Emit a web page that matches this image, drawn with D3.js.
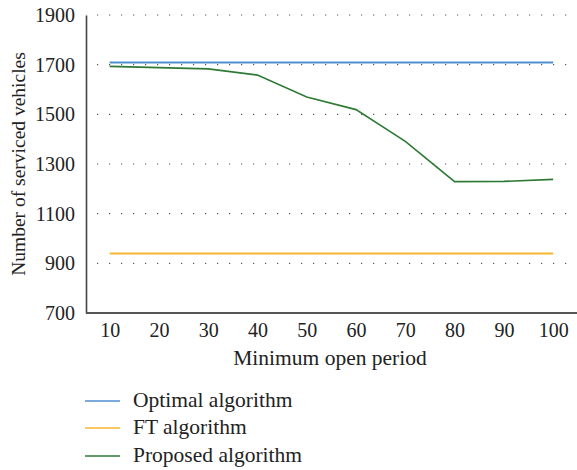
<!DOCTYPE html>
<html><head><meta charset="utf-8">
<script src="https://cdn.jsdelivr.net/npm/d3@7"></script>
<style>body{margin:0;background:#fff}svg{display:block}svg text{font-family:"Liberation Serif","DejaVu Serif",serif !important;}</style>
</head><body>
<svg id="c" width="577" height="470"></svg>
<script>
const periods = [10,20,30,40,50,60,70,80,90,100];
const optimal = [1709,1709,1709,1709,1709,1709,1709,1709,1709,1709];
const ftAlg = [940,940,940,940,940,940,940,940,940,940];
const proposed = [1693,1688,1683,1658,1570,1519,1391,1229,1230,1238];
const yTicks = [700,900,1100,1300,1500,1700,1900];
const seriesNames = ["Optimal algorithm","FT algorithm","Proposed algorithm"];
const colors = ["#4f8fd0","#f7b630","#2e7a35"];
const series = [optimal, ftAlg, proposed];

const svg = d3.select("#c");
const x = d3.scaleLinear().domain([5,105]).range([85,577.8]);
const y = d3.scaleLinear().domain([700,1900]).range([313,15]);

// grid
svg.append("g").selectAll("line").data(yTicks.filter(d=>d>700)).join("line")
  .attr("x1",86).attr("x2",577).attr("y1",d=>y(d)).attr("y2",d=>y(d))
  .attr("stroke","#555").attr("stroke-width",1.2)
  .attr("stroke-dasharray","1.2 10.8").attr("stroke-dashoffset",-11);

// y axis
const ya = svg.append("g").attr("transform","translate(86,0)")
  .call(d3.axisLeft(y).tickValues(yTicks).tickSize(0).tickPadding(11).tickFormat(d3.format("d")));
ya.attr("font-family",null);
ya.select(".domain").attr("stroke","#444").attr("stroke-width",1.6);
ya.selectAll("text").attr("font-size",20).attr("fill","#222");

// x axis
const xa = svg.append("g").attr("transform","translate(0,313)")
  .call(d3.axisBottom(x).tickValues(periods).tickSize(0).tickPadding(10).tickFormat(d3.format("d")));
xa.attr("font-family",null);
xa.select(".domain").attr("stroke","#555").attr("stroke-width",1.8).attr("d","M86,0H577");
xa.selectAll("text").attr("font-size",20).attr("fill","#222");

// lines
const line = d3.line().x((d,i)=>x(periods[i])).y(d=>y(d));
series.forEach((s,k)=>{
  svg.append("path").datum(s).attr("d",line).attr("fill","none")
    .attr("stroke",colors[k]).attr("stroke-width",k===2?1.6:2);
});

// axis titles
svg.append("text").attr("x",330).attr("y",365).attr("text-anchor","middle")
  .attr("font-size",21.5).attr("fill","#222").text("Minimum open period");
svg.append("text").attr("transform","translate(25,164) rotate(-90)").attr("text-anchor","middle")
  .attr("font-size",19.5).attr("fill","#222").text("Number of serviced vehicles");

// legend
const lg = svg.append("g");
const ly = [401,428,456];
seriesNames.forEach((n,k)=>{
  lg.append("line").attr("x1",85).attr("x2",120).attr("y1",ly[k]).attr("y2",ly[k])
    .attr("stroke",colors[k]).attr("stroke-width",1.5);
  lg.append("text").attr("x",133).attr("y",ly[k]+6)
    .attr("font-size",21.5).attr("fill","#222").text(n);
});
</script>
</body></html>
